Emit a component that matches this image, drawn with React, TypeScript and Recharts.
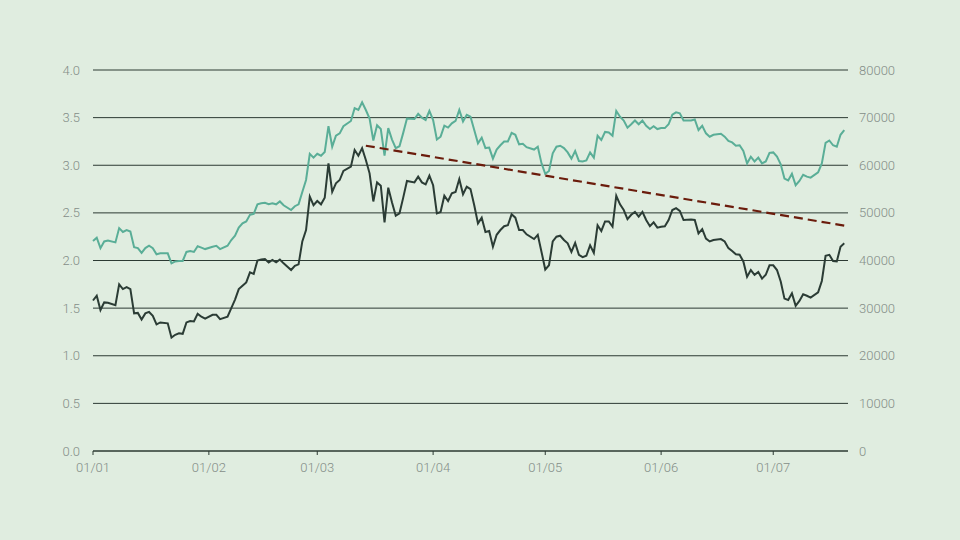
import React from 'react';
import { LineChart, Line, XAxis, YAxis, CartesianGrid, ReferenceLine } from 'recharts';

// day offsets from 01/01 (2024)
const days = [
  0, 1, 2, 3, 4, 6, 7, 8, 9, 10,
  11, 12, 13, 14, 15, 16, 17, 18, 20, 21,
  22, 23, 24, 25, 26, 27, 28, 29, 30, 32,
  33, 34, 36, 37, 38, 39, 40, 41, 42, 43,
  44, 45, 46, 47, 48, 49, 50, 51, 53, 54,
  55, 56, 57, 58, 59, 60, 61, 62, 63, 64,
  65, 66, 67, 69, 70, 71, 72, 73, 74, 75,
  76, 77, 78, 79, 80, 81, 82, 83, 84, 86,
  87, 88, 89, 90, 91, 92, 93, 94, 95, 96,
  97, 98, 99, 100, 101, 102, 103, 104, 105, 106,
  107, 108, 109, 110, 111, 112, 113, 114, 115, 116,
  118, 119, 120, 121, 122, 123, 124, 125, 126, 127,
  128, 129, 130, 131, 132, 133, 134, 135, 136, 137,
  138, 139, 140, 141, 142, 143, 144, 145, 146, 147,
  148, 149, 150, 151, 152, 153, 154, 155, 156, 157,
  158, 160, 161, 162, 163, 164, 165, 166, 168, 169,
  170, 171, 172, 173, 174, 175, 176, 177, 178, 179,
  180, 181, 182, 183, 184, 185, 186, 187, 188, 189,
  190, 191, 192, 194, 195, 196, 197, 198, 199, 200,
  201,
];

// dark series (left axis)
const darkValues = [
  1.58, 1.63, 1.48, 1.56, 1.557, 1.53, 1.75, 1.70, 1.72, 1.70,
  1.445, 1.45, 1.38, 1.445, 1.46, 1.42, 1.33, 1.35, 1.34, 1.19,
  1.22, 1.235, 1.23, 1.35, 1.365, 1.36, 1.44, 1.41, 1.39, 1.43,
  1.43, 1.385, 1.41, 1.50, 1.59, 1.70, 1.735, 1.77, 1.875, 1.86,
  2.00, 2.01, 2.015, 1.98, 2.005, 1.98, 2.01, 1.97, 1.90, 1.945,
  1.96, 2.20, 2.32, 2.67, 2.58, 2.625, 2.59, 2.66, 3.02, 2.72,
  2.81, 2.845, 2.94, 2.985, 3.16, 3.10, 3.18, 3.055, 2.915, 2.62,
  2.82, 2.785, 2.40, 2.765, 2.61, 2.47, 2.495, 2.66, 2.835, 2.82,
  2.88, 2.82, 2.80, 2.89, 2.79, 2.495, 2.51, 2.68, 2.625, 2.705,
  2.72, 2.855, 2.695, 2.775, 2.75, 2.58, 2.39, 2.45, 2.30, 2.31,
  2.145, 2.27, 2.32, 2.36, 2.37, 2.485, 2.45, 2.32, 2.32, 2.275,
  2.225, 2.27, 2.09, 1.905, 1.95, 2.20, 2.25, 2.26, 2.215, 2.18,
  2.09, 2.185, 2.06, 2.035, 2.05, 2.16, 2.08, 2.37, 2.31, 2.41,
  2.41, 2.355, 2.68, 2.59, 2.53, 2.435, 2.48, 2.51, 2.46, 2.51,
  2.425, 2.36, 2.40, 2.345, 2.355, 2.36, 2.425, 2.53, 2.55, 2.52,
  2.425, 2.43, 2.425, 2.285, 2.33, 2.23, 2.20, 2.215, 2.225, 2.20,
  2.13, 2.10, 2.065, 2.06, 1.99, 1.83, 1.90, 1.85, 1.88, 1.81,
  1.85, 1.95, 1.95, 1.90, 1.78, 1.60, 1.585, 1.655, 1.525, 1.575,
  1.645, 1.63, 1.61, 1.665, 1.785, 2.05, 2.06, 1.995, 1.99, 2.145,
  2.18,
];

// teal series (right axis)
const tealValues = [
  44100, 44800, 42600, 44000, 44200, 43800, 46800, 46000, 46400, 46100,
  42800, 42600, 41600, 42600, 43100, 42600, 41300, 41500, 41500, 39400,
  39800, 39900, 39900, 41800, 42000, 41800, 43000, 42700, 42400, 42900,
  43100, 42400, 43100, 44300, 45200, 46900, 47800, 48200, 49600, 49800,
  51800, 52000, 52100, 51800, 52000, 51800, 52400, 51600, 50600, 51400,
  51800, 54400, 56900, 62400, 61600, 62400, 62000, 62800, 68200, 63900,
  66200, 66700, 68200, 69300, 72000, 71600, 73200, 71600, 69800, 65200,
  68400, 67600, 62000, 67800, 65400, 63600, 64000, 66800, 69800, 69700,
  70800, 70000, 69500, 71400, 69500, 65400, 66000, 68300, 67900, 68800,
  69300, 71600, 69200, 70600, 70200, 67400, 64600, 65800, 63600, 63700,
  61400, 63300, 64200, 65000, 65000, 66800, 66400, 64400, 64500, 63800,
  63300, 63900, 60400, 58200, 58800, 62500, 63900, 64100, 63600, 62700,
  61400, 63000, 60900, 60800, 61000, 62700, 61600, 66200, 65300, 67000,
  66900, 66200, 71400, 70200, 69400, 67900, 68600, 69400, 68600, 69400,
  68300, 67600, 68200, 67600, 67800, 67800, 68600, 70600, 71100, 70900,
  69400, 69400, 69600, 67400, 68300, 66700, 66000, 66400, 66600, 66000,
  65100, 64800, 64100, 64200, 63000, 60400, 61800, 60800, 61600, 60400,
  60800, 62600, 62700, 61800, 60200, 57200, 56800, 58200, 55800, 56700,
  58000, 57600, 57400, 58500, 60400, 64700, 65200, 64200, 63900, 66400,
  67400,
];

// dashed trend line (left axis)
const trendDays = [73, 202];
const trendValues = [3.205, 2.36];

const xTickDays = [0, 31, 60, 91, 121, 152, 182];
const xTickLabels = ['01/01', '01/02', '01/03', '01/04', '01/05', '01/06', '01/07'];
const leftTicks = [0, 0.5, 1, 1.5, 2, 2.5, 3, 3.5, 4];
const rightTicks = [0, 10000, 20000, 30000, 40000, 50000, 60000, 70000, 80000];

const data = days.map((d, i) => ({ day: d, dark: darkValues[i], teal: tealValues[i] }));

const BG = '#e0ede0';
const GRID = '#2c3a33';
const TEXT = '#848e88';
const tickStyle = { fill: TEXT, fontSize: 13, fontFamily: 'Roboto, sans-serif', fontWeight: 300 };

export default function App() {
  return (
    <div style={{ position: 'fixed', left: 0, top: 0, width: 960, height: 540, background: BG }}>
      <LineChart
        width={960}
        height={540}
        data={data}
        margin={{ top: 70, right: 52, bottom: 59, left: 33 }}
      >
        <CartesianGrid vertical={false} stroke={GRID} strokeWidth={1} horizontalValues={leftTicks} />
        <XAxis
          dataKey="day"
          type="number"
          domain={[0, 202]}
          ticks={xTickDays}
          tickFormatter={(v: number) => xTickLabels[xTickDays.indexOf(v)] ?? ''}
          height={30}
          stroke={GRID}
          tickSize={4}
          tickMargin={8}
          tick={tickStyle}
          axisLine={{ stroke: GRID }}
          tickLine={{ stroke: GRID }}
          interval={0}
        />
        <YAxis
          yAxisId={0}
          domain={[0, 4]}
          ticks={leftTicks}
          tickFormatter={(v: number) => v.toFixed(1)}
          width={60}
          axisLine={false}
          tickLine={false}
          tickSize={0}
          tickMargin={13}
          tick={tickStyle}
          interval={0}
        />
        <YAxis
          yAxisId="right"
          orientation="right"
          domain={[0, 80000]}
          ticks={rightTicks}
          width={60}
          axisLine={false}
          tickLine={false}
          tickSize={0}
          tickMargin={11}
          tick={{ ...tickStyle, textAnchor: 'start' }}
          interval={0}
        />
        <Line
          yAxisId="right"
          type="linear"
          dataKey="teal"
          stroke="#5aae97"
          strokeWidth={2}
          dot={false}
          isAnimationActive={false}
        />
        <Line
          yAxisId={0}
          type="linear"
          dataKey="dark"
          stroke="#2b3c35"
          strokeWidth={2}
          dot={false}
          isAnimationActive={false}
        />
        <ReferenceLine
          yAxisId={0}
          segment={[
            { x: trendDays[0], y: trendValues[0] },
            { x: trendDays[1], y: trendValues[1] },
          ]}
          stroke="#6b1c0c"
          strokeWidth={2.2}
          strokeDasharray="9 5"
          ifOverflow="extendDomain"
        />
      </LineChart>
    </div>
  );
}
